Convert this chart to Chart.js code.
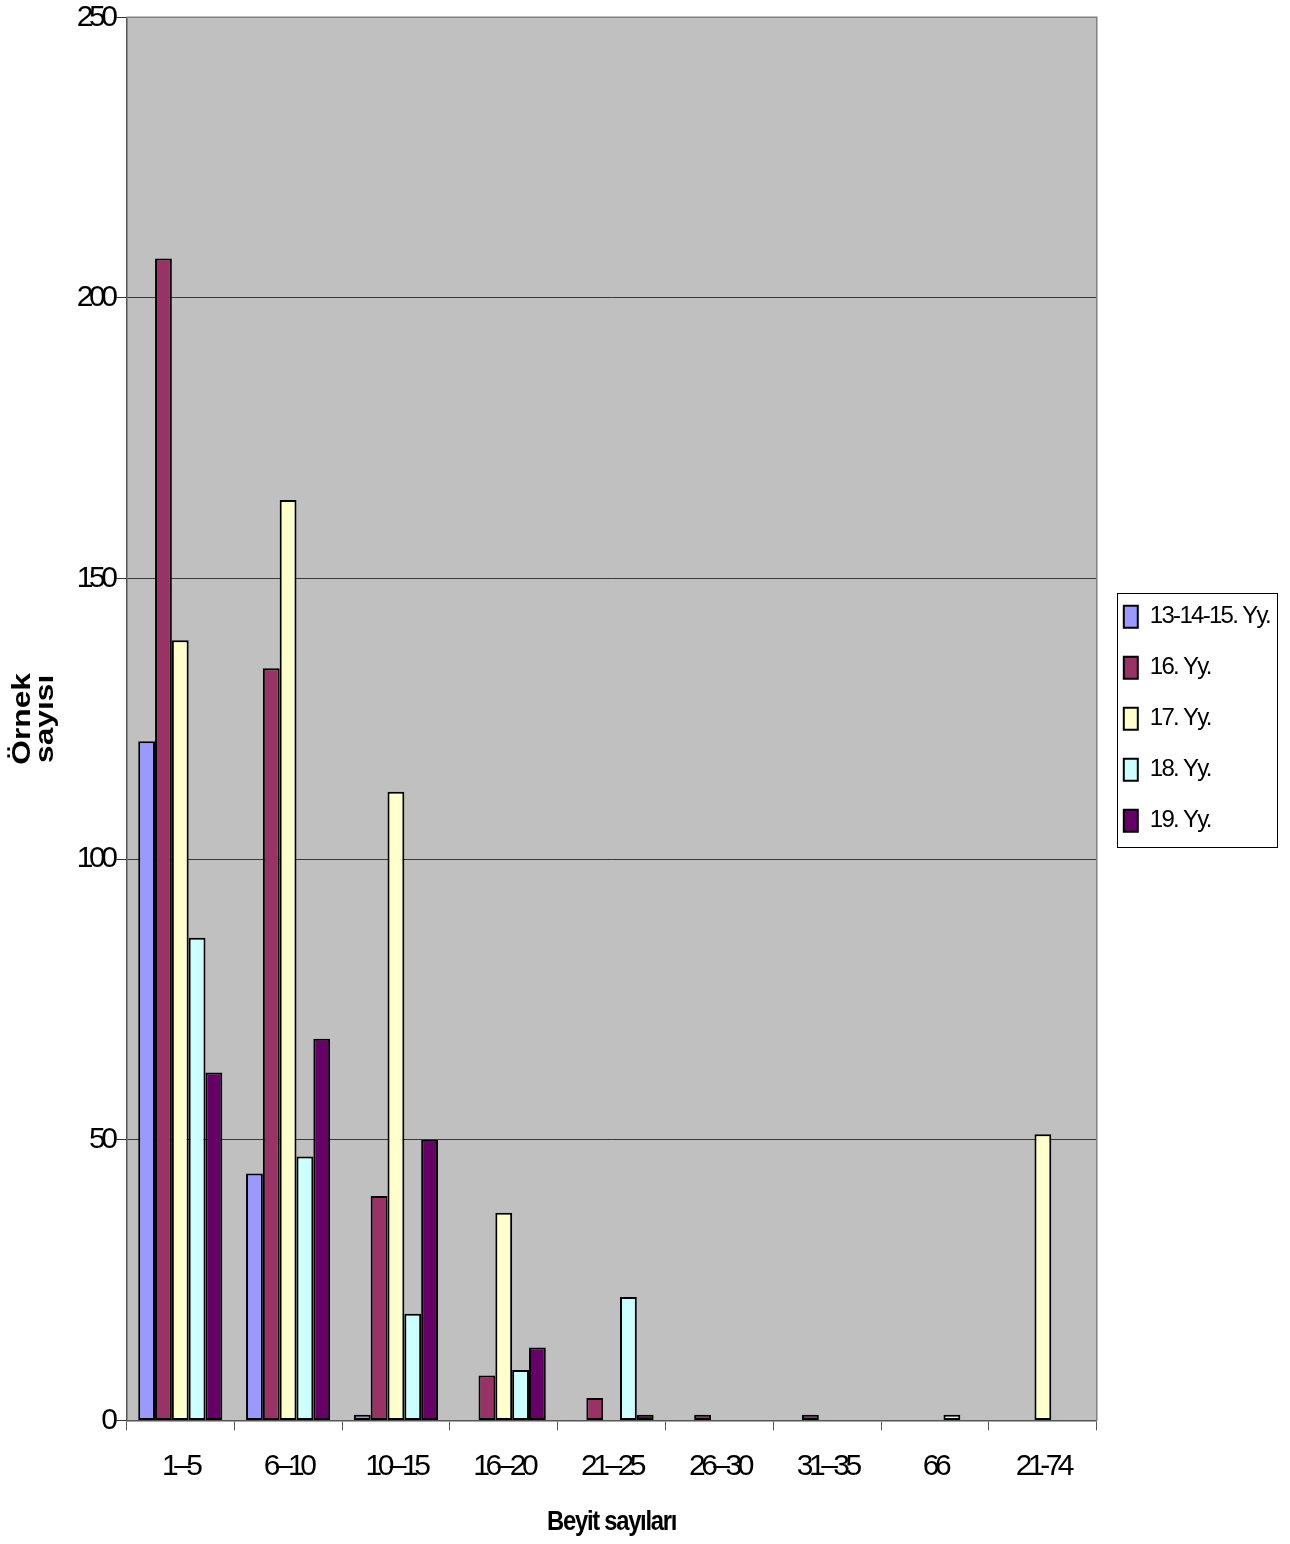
<!DOCTYPE html>
<html lang="tr">
<head>
    <meta charset="UTF-8">
    <title>Beyit sayıları</title>
    <script src="https://cdn.jsdelivr.net/npm/chart.js"></script>
    <style>
        body { margin: 0; background: #fff; }
        #wrap { width: 1290px; height: 1544px; }
    </style>
</head>
<body>
    <div id="wrap">
        <canvas id="myChart"></canvas>
    </div>

    <script>
        // veriler
        const labels = ['1–5', '6–10', '10–15', '16–20', '21–25', '26–30', '31–35', '66', '21-74'];
        const seriesNames = ['13-14-15. Yy.', '16. Yy.', '17. Yy.', '18. Yy.', '19. Yy.'];
        const yy131415 = [121, 44, 1, 0, 0, 0, 0, 0, 0];
        const yy16 = [207, 134, 40, 8, 4, 1, 1, 0, 0];
        const yy17 = [139, 164, 112, 37, 0, 0, 0, 0, 51];
        const yy18 = [86, 47, 19, 9, 22, 0, 0, 1, 0];
        const yy19 = [62, 68, 50, 13, 1, 0, 0, 0, 0];
        const yTicks = [0, 50, 100, 150, 200, 250];

        const colors = ['#9999ff', '#993366', '#ffffcc', '#ccffff', '#660066'];
        const values = [yy131415, yy16, yy17, yy18, yy19];

        const FONT = "'Liberation Sans', Arial, sans-serif";
        const TICK_SPACING = '-4.5px';

        // harf aralığı (Excel'deki sıkışık yazı için)
        function withSpacing(fn, sp) {
            return function () {
                const ctx = this.ctx;
                const old = ctx.letterSpacing;
                ctx.letterSpacing = sp;
                const r = fn.apply(this, arguments);
                ctx.letterSpacing = old;
                return r;
            };
        }

        // başlığı merkez etrafında esnet
        function withStretch(fn, getCenter, sx, sy, sp) {
            return function () {
                const ctx = this.ctx;
                const c = getCenter(this);
                ctx.save();
                ctx.letterSpacing = sp;
                ctx.translate(c.x, c.y);
                ctx.scale(sx, sy);
                ctx.translate(-c.x, -c.y);
                const r = fn.apply(this, arguments);
                ctx.restore();
                return r;
            };
        }

        const stylePlugin = {
            id: 'excelStyle',
            beforeUpdate(chart) {
                chart.ctx.letterSpacing = TICK_SPACING;
                if (chart.legend && !chart.legend._patched) {
                    chart.legend.fit = withSpacing(chart.legend.fit, '-1.7px');
                    chart.legend.draw = withSpacing(chart.legend.draw, '-1.7px');
                    chart.legend._patched = true;
                }
            },
            beforeLayout(chart) {
                chart.ctx.letterSpacing = TICK_SPACING;
            },
            afterLayout(chart) {
                const y = chart.scales.y;
                if (y && !y._patched) {
                    y.drawTitle = withStretch(y.drawTitle, s => ({ x: s.left, y: (s.top + s.bottom) / 2 }), 1, 1.22, '0px');
                    y._patched = true;
                }
                const x = chart.scales.x;
                if (x && !x._patched) {
                    x.drawTitle = withStretch(x.drawTitle, s => ({ x: (s.left + s.right) / 2, y: s.bottom }), 0.85, 1, '-1.5px');
                    x._patched = true;
                }
            },
            beforeDraw(chart) {
                const ctx = chart.ctx;
                const a = chart.chartArea;
                ctx.letterSpacing = TICK_SPACING;
                ctx.save();
                ctx.fillStyle = '#c0c0c0';
                ctx.fillRect(a.left, a.top, a.right - a.left, a.bottom - a.top);
                ctx.restore();
            },
            beforeDatasetsDraw(chart) {
                const ctx = chart.ctx;
                const a = chart.chartArea;
                ctx.save();
                ctx.strokeStyle = '#808080';
                ctx.lineWidth = 1.5;
                ctx.beginPath();
                ctx.moveTo(a.left, a.top);
                ctx.lineTo(a.right, a.top);
                ctx.lineTo(a.right, a.bottom);
                ctx.stroke();
                ctx.restore();
            },
            afterDraw(chart) {
                // lejant çerçevesi
                const lg = chart.legend;
                if (!lg || !lg.legendHitBoxes || !lg.legendHitBoxes.length) return;
                const hb = lg.legendHitBoxes;
                let l = Infinity, t = Infinity, r = -Infinity, b = -Infinity;
                hb.forEach(h => {
                    l = Math.min(l, h.left);
                    t = Math.min(t, h.top);
                    r = Math.max(r, h.left + h.width);
                    b = Math.max(b, h.top + h.height);
                });
                const ctx = chart.ctx;
                ctx.save();
                ctx.strokeStyle = '#000';
                ctx.lineWidth = 1;
                ctx.strokeRect(Math.round(l - 7) + 0.5, Math.round(t - 12) + 0.5, Math.round(r - l + 14), Math.round(b - t + 26));
                ctx.restore();
            }
        };

        const data = {
            labels: labels,
            datasets: seriesNames.map((name, i) => ({
                label: name,
                data: values[i],
                backgroundColor: colors[i],
                borderColor: '#000',
                borderWidth: 2,
                borderSkipped: false,
                barPercentage: 1,
                categoryPercentage: 0.78
            }))
        };

        const config = {
            type: 'bar',
            data: data,
            plugins: [stylePlugin],
            options: {
                responsive: true,
                maintainAspectRatio: false,
                animation: false,
                devicePixelRatio: 1,
                layout: {
                    padding: { left: 3, top: 17, right: 10, bottom: 0 }
                },
                plugins: {
                    tooltip: { enabled: false },
                    legend: {
                        position: 'right',
                        fullSize: false,
                        labels: {
                            color: '#000',
                            font: { family: FONT, size: 24 },
                            boxWidth: 14,
                            boxHeight: 22,
                            padding: 27
                        }
                    }
                },
                scales: {
                    x: {
                        grid: {
                            display: true,
                            drawOnChartArea: false,
                            offset: true,
                            tickLength: 10,
                            tickColor: '#555'
                        },
                        border: { color: '#555', width: 1.5 },
                        ticks: {
                            color: '#000',
                            font: { family: FONT, size: 30 },
                            padding: 18,
                            maxRotation: 0,
                            autoSkip: false
                        },
                        title: {
                            display: true,
                            text: 'Beyit sayıları',
                            color: '#000',
                            font: { family: FONT, size: 28, weight: 'bold' },
                            padding: { top: 3, bottom: 5 }
                        }
                    },
                    y: {
                        min: 0,
                        max: 250,
                        afterBuildTicks(scale) {
                            scale.ticks = yTicks.map(v => ({ value: v }));
                        },
                        grid: {
                            color: '#3a3a3a',
                            lineWidth: 1,
                            tickLength: 10,
                            tickColor: '#333'
                        },
                        border: { color: '#555', width: 1.5 },
                        ticks: {
                            color: '#000',
                            font: { family: FONT, size: 30, lineHeight: 0.95 },
                            padding: 3
                        },
                        title: {
                            display: true,
                            text: ['Örnek', 'sayısı'],
                            color: '#000',
                            font: { family: FONT, size: 26, weight: 'bold', lineHeight: 0.9 },
                            padding: { top: 8, bottom: 16 }
                        }
                    }
                }
            }
        };

        const ctx = document.getElementById('myChart').getContext('2d');
        const chart = new Chart(ctx, config);
    </script>
</body>
</html>
